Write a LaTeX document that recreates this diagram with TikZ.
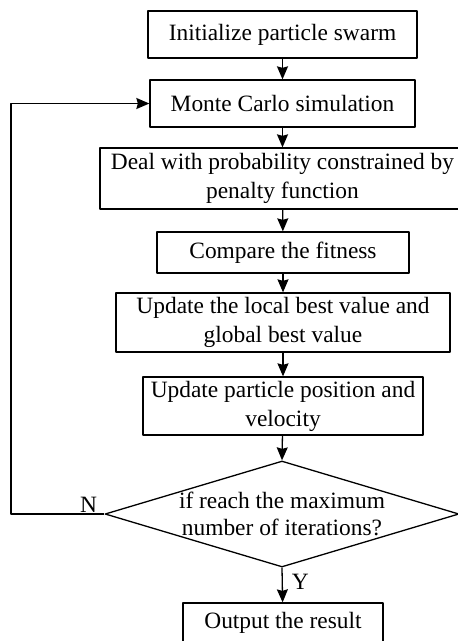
\documentclass[tikz,border=0pt]{standalone}
\usepackage{fontspec}
\setmainfont{Liberation Serif}
\usetikzlibrary{arrows.meta,shapes.geometric}

\begin{document}
\begin{tikzpicture} [x=1pt, y=-1pt, line width=1.3pt, line join=round,
		>={Stealth[length=13pt,width=11pt,inset=1.5pt]},
		box/.style={draw, align=center, inner sep=0pt, font=\fontsize{23.4}{29}\selectfont},
		txt/.style={align=center, inner sep=0pt, font=\fontsize{23.4}{27}\selectfont}]
			\useasboundingbox (0,0) rectangle (458,641);
			% process boxes, top to bottom
			\node[box, minimum width=269pt, minimum height=47pt] (init) at (282.5,34.5) {Initialize particle swarm};
			\node[box, minimum width=265pt, minimum height=47pt] (mc) at (282.5,103.5) {Monte Carlo simulation};
			\node[box, minimum width=365pt, minimum height=61pt] (deal) at (282.5,178.5) {Deal with probability constrained by\\penalty function};
			\node[box, minimum width=252pt, minimum height=41pt] (cmp) at (283,252.5) {Compare the fitness};
			\node[box, minimum width=334pt, minimum height=59pt] (upd1) at (283,322.5) {Update the local best value and\\global best value};
			\node[box, minimum width=280pt, minimum height=58pt] (upd2) at (283,406) {Update particle position and\\velocity};
			\node[draw, diamond, minimum width=354pt, minimum height=106pt, inner sep=0pt] (dec) at (282,514) {};
			\node[txt] at (dec) {if reach the maximum\\number of iterations?};
			\node[box, minimum width=200pt, minimum height=40pt] (out) at (283,623) {Output the result};
			\coordinate (back) at (11,514);
			% arrows
			\draw[->] (init) -- (mc);
			\draw[->] (mc) -- (deal);
			\draw[->] (deal) -- (cmp);
			\draw[->] (cmp) -- (upd1);
			\draw[->] (upd1) -- (upd2);
			\draw[->] (upd2) -- (dec.north);
			\draw[->] (dec.south) -- node[txt, right=9pt, pos=0.4]{Y} (out);
			\draw[->] (dec.west) -- node[txt, above, pos=0.17, yshift=1pt]{N} (back) |- (mc.west);
	\end{tikzpicture}
\end{document}
